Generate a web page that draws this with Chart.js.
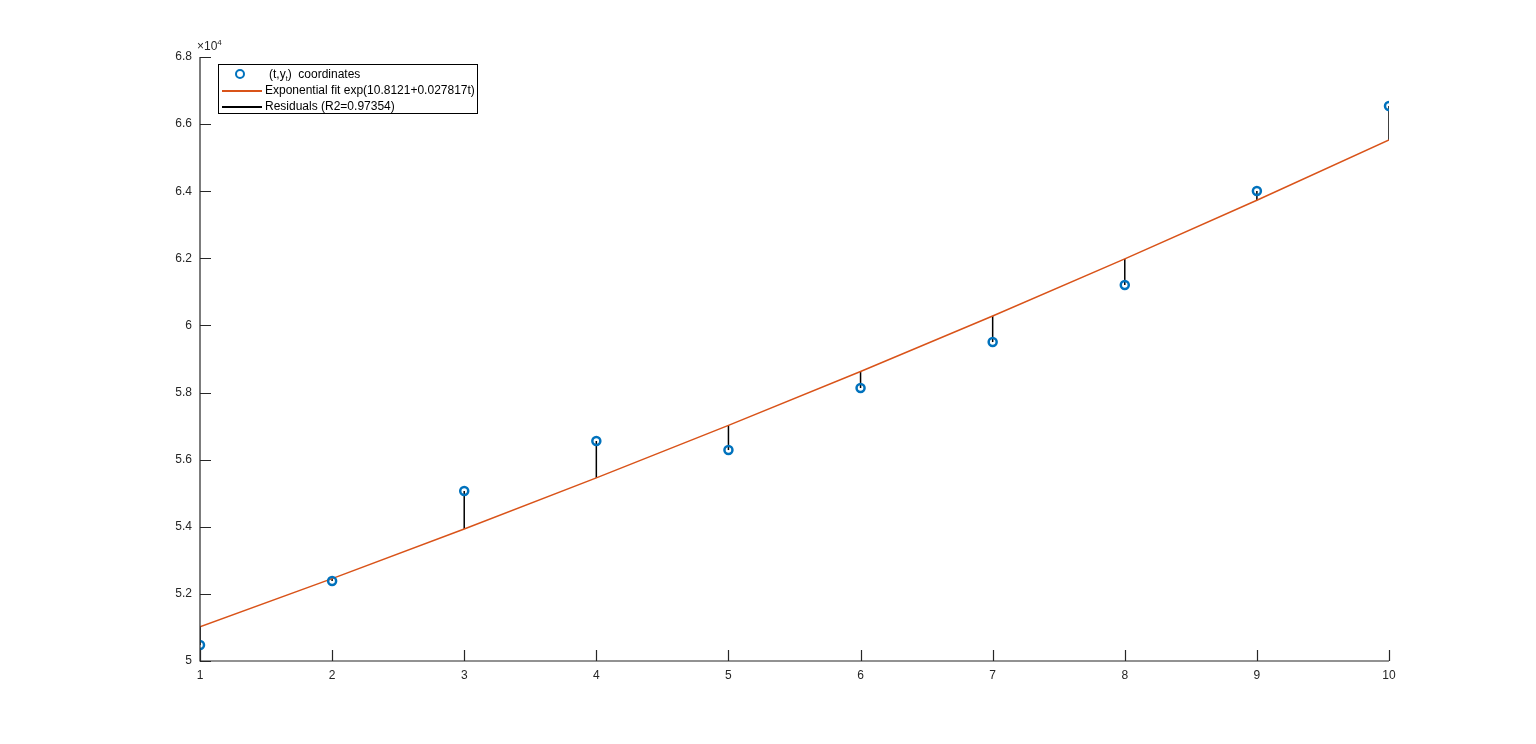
<!DOCTYPE html>
<html>
<head>
<meta charset="utf-8">
<script src="https://cdn.jsdelivr.net/npm/chart.js@4/dist/chart.umd.min.js"></script>
<style>
  html, body { margin: 0; padding: 0; background: #fff; }
  #wrap { position: relative; width: 1536px; height: 744px; }
  #legend {
    position: absolute; left: 218px; top: 64px; width: 260px; height: 50px;
    border: 1px solid #000; background: #fff; box-sizing: border-box;
    font-family: "Liberation Sans", Arial, sans-serif; font-size: 12px; color: #000;
  }
  #legend .row { position: absolute; left: 0; height: 16px; line-height: 16px; width: 100%; white-space: nowrap; }
  #legend .row span.txt { position: absolute; left: 46px; }
  #legend .sample { position: absolute; left: 3px; width: 40px; top: 8px; height: 2px; }
  #legend .mark {
    position: absolute; left: 16px; top: 3px; width: 6px; height: 6px;
    border: 2.5px solid #0072BD; border-radius: 50%;
  }
  #exp { position: absolute; left: 197px; top: 38px; font-family: "Liberation Sans", Arial, sans-serif; font-size: 12px; color: #262626; }
</style>
</head>
<body>
<div id="wrap">
  <canvas id="myChart" width="1536" height="744"></canvas>
  <div id="exp">×10<sup style="font-size:8px">4</sup></div>
  <div id="legend">
    <div class="row" style="top:1px"><div class="mark"></div><span class="txt" style="left:50px">(t,y<sub style="font-size:7px">t</sub>)&nbsp; coordinates</span></div>
    <div class="row" style="top:17px"><div class="sample" style="background:#D95319"></div><span class="txt">Exponential fit exp(10.8121+0.027817t)</span></div>
    <div class="row" style="top:33px"><div class="sample" style="background:#000"></div><span class="txt">Residuals (R2=0.97354)</span></div>
  </div>
</div>
<script>
// observed data
var tValues = [1, 2, 3, 4, 5, 6, 7, 8, 9, 10];
var observed = [50477, 52384, 55066, 56555, 56287, 58135, 59505, 61204, 64005, 66538];
// fitted exp curve values at each t
var fitted = [51016, 52455, 53935, 55456, 57021, 58629, 60283, 61983, 63732, 65529];

var xTicks = [1, 2, 3, 4, 5, 6, 7, 8, 9, 10];
var yTicks = [50000, 52000, 54000, 56000, 58000, 60000, 62000, 64000, 66000, 68000];

var axisColor = '#262626';
var tickFont = { family: 'Liberation Sans, Arial, sans-serif', size: 12 };

var datasets = [];

// residual stems, one small dataset each
tValues.forEach(function (t, i) {
    datasets.push({
        type: 'line',
        label: 'resid' + i,
        data: [{ x: t, y: observed[i] }, { x: t, y: fitted[i] }],
        borderColor: '#000000',
        borderWidth: 1.5,
        pointRadius: 0,
        fill: false,
        order: 3
    });
});

datasets.push({
    type: 'line',
    label: 'Exponential fit',
    data: tValues.map(function (t, i) { return { x: t, y: fitted[i] }; }),
    borderColor: '#D95319',
    borderWidth: 1.5,
    pointRadius: 0,
    fill: false,
    order: 2
});

datasets.push({
    type: 'scatter',
    label: 'coordinates',
    data: tValues.map(function (t, i) { return { x: t, y: observed[i] }; }),
    borderColor: '#0072BD',
    backgroundColor: 'rgba(0,0,0,0)',
    borderWidth: 2.5,
    pointRadius: 4,
    order: 1
});

// MATLAB-style inward ticks + axis lines
var inwardTicks = {
    id: 'inwardTicks',
    afterDatasetsDraw: function (chart) {
        var ctx = chart.ctx, xs = chart.scales.x, ys = chart.scales.y;
        var a = chart.chartArea;
        ctx.save();
        ctx.strokeStyle = axisColor;
        ctx.lineWidth = 1.2;
        ctx.beginPath();
        ctx.moveTo(a.left, a.top);
        ctx.lineTo(a.left, a.bottom);
        ctx.lineTo(a.right, a.bottom);
        xTicks.forEach(function (v) {
            var px = Math.round(xs.getPixelForValue(v)) + 0.5;
            ctx.moveTo(px, a.bottom);
            ctx.lineTo(px, a.bottom - 11);
        });
        yTicks.forEach(function (v) {
            var py = Math.round(ys.getPixelForValue(v)) + 0.5;
            ctx.moveTo(a.left, py);
            ctx.lineTo(a.left + 11, py);
        });
        ctx.stroke();
        ctx.restore();
    }
};

var ctx = document.getElementById('myChart').getContext('2d');
var myChart = new Chart(ctx, {
    data: { datasets: datasets },
    options: {
        responsive: false,
        animation: false,
        layout: { padding: { top: 57, right: 147, left: 0, bottom: 0 } },
        plugins: { legend: { display: false }, tooltip: { enabled: false } },
        scales: {
            x: {
                type: 'linear',
                min: 1, max: 10,
                afterFit: function (s) { s.height = 83; },
                afterBuildTicks: function (s) { s.ticks = xTicks.map(function (v) { return { value: v }; }); },
                grid: { display: false, drawTicks: false },
                border: { display: false },
                ticks: { color: axisColor, font: tickFont, padding: 7, maxRotation: 0 }
            },
            y: {
                type: 'linear',
                min: 50000, max: 68000,
                afterFit: function (s) { s.width = 200; },
                afterBuildTicks: function (s) { s.ticks = yTicks.map(function (v) { return { value: v }; }); },
                grid: { display: false, drawTicks: false },
                border: { display: false },
                ticks: {
                    color: axisColor, font: tickFont, padding: 8,
                    callback: function (v) { return String(Number((v / 10000).toFixed(1))); }
                }
            }
        }
    },
    plugins: [inwardTicks]
});
</script>
</body>
</html>
